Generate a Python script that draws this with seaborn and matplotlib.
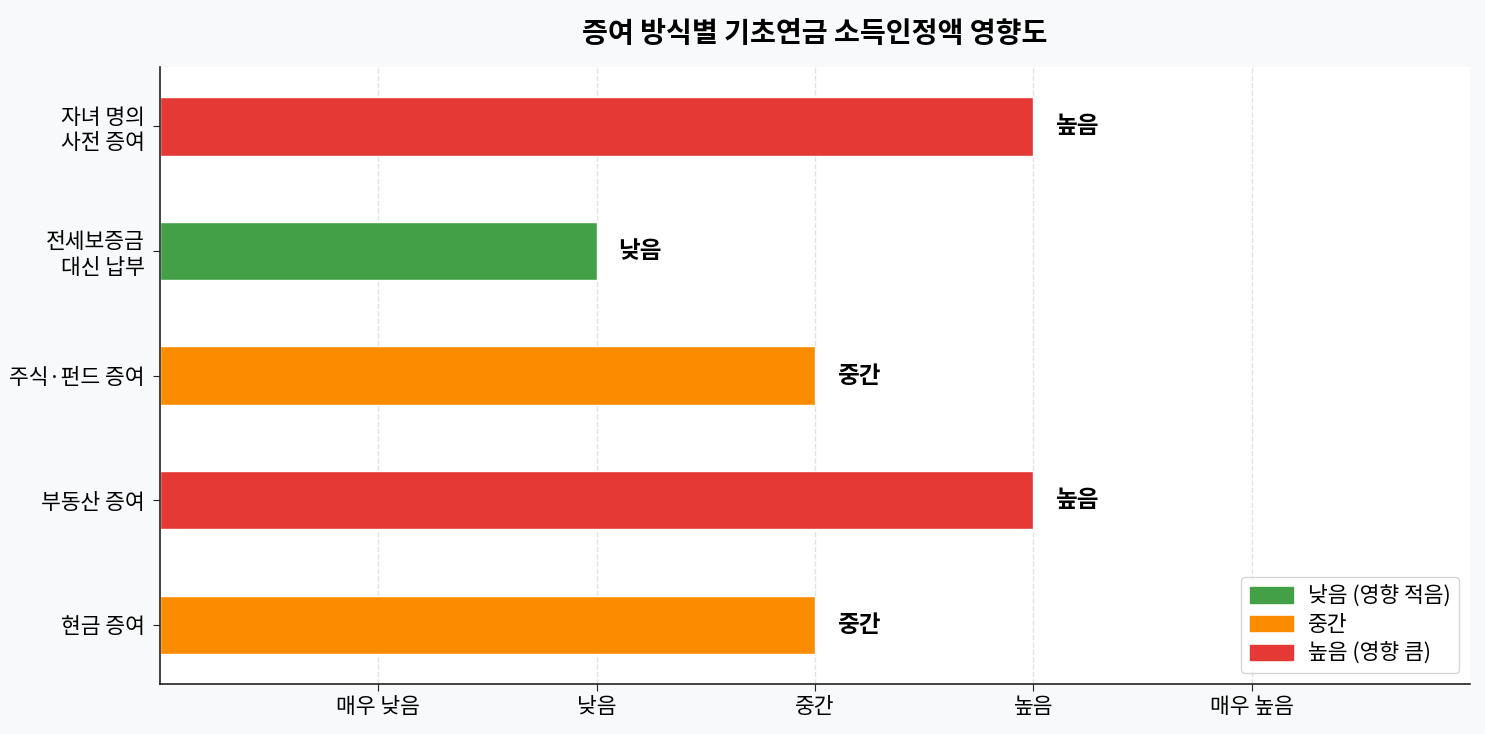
"""
Gift type vs. basic pension income-recognition impact (horizontal bars).
"""
import numpy  as np
import pandas as pd

import matplotlib.pyplot as plt
import seaborn           as sns

from matplotlib.patches import Patch

# ================================================================================
# Data
# ================================================================================
methods     = ["자녀 명의\n사전 증여", "전세보증금\n대신 납부", "주식·펀드 증여", "부동산 증여", "현금 증여"]
impact      = [4, 2, 3, 4, 3]
impact_text = ["높음", "낮음", "중간", "높음", "중간"]

tick_pos    = [1, 2, 3, 4, 5]
tick_labels = ["매우 낮음", "낮음", "중간", "높음", "매우 높음"]

level_colors = {"낮음": "#43A047", "중간": "#FB8C00", "높음": "#E53935"}
legend_names = {"낮음": "낮음 (영향 적음)", "중간": "중간", "높음": "높음 (영향 큼)"}

df = pd.DataFrame({"method": methods, "impact": impact, "level": impact_text})

# ================================================================================
# Plot
# ================================================================================
sns.set_style("white")
plt.rcParams["font.family"] = ["Noto Sans CJK KR", "DejaVu Sans"]
plt.rcParams["axes.unicode_minus"] = False
plt.rcParams["text.color"]       = "black"
plt.rcParams["xtick.color"]      = "black"
plt.rcParams["ytick.color"]      = "black"
plt.rcParams["axes.labelcolor"]  = "black"

fig = plt.figure(figsize=(14.85, 7.34), dpi=100, facecolor="#F8F9FA")
ax  = fig.add_axes([0.1077, 0.0681, 0.8822, 0.8406])
ax.set_facecolor("white")

sns.barplot(
    data=df, x="impact", y="method", hue="level", palette=level_colors,
    order=methods, dodge=False, width=0.47, legend=False, ax=ax,
    saturation=1,
)

# value labels next to each bar
for i, (v, t) in enumerate(zip(impact, impact_text)):
    ax.text(v + 0.1, i, t, va="center", ha="left", fontsize=17, fontweight="bold")

ax.set_xlim(0, 6)
ax.set_ylim(4.475, -0.475)
ax.set_xticks(tick_pos)
ax.set_xticklabels(tick_labels, fontsize=15.5)
ax.tick_params(axis="y", labelsize=15.5, pad=6)
ax.tick_params(axis="both", length=5, color="#222222", left=True, bottom=True)
ax.set_xlabel("")
ax.set_ylabel("")

ax.xaxis.grid(True, linestyle="--", color="#E2E2E2", linewidth=1)
ax.set_axisbelow(True)

sns.despine(ax=ax)
for s in ["left", "bottom"]:
    ax.spines[s].set_color("#222222")
    ax.spines[s].set_linewidth(1.2)

handles = [Patch(color=level_colors[k], label=legend_names[k]) for k in ["낮음", "중간", "높음"]]
ax.legend(handles=handles, loc="lower right", fontsize=15.5, frameon=True,
          edgecolor="#CCCCCC", labelspacing=0.3, handletextpad=0.7)

ax.set_title("증여 방식별 기초연금 소득인정액 영향도", fontsize=20.3, fontweight="bold", pad=18)

fig.savefig("out.png", dpi=100, facecolor=fig.get_facecolor())
